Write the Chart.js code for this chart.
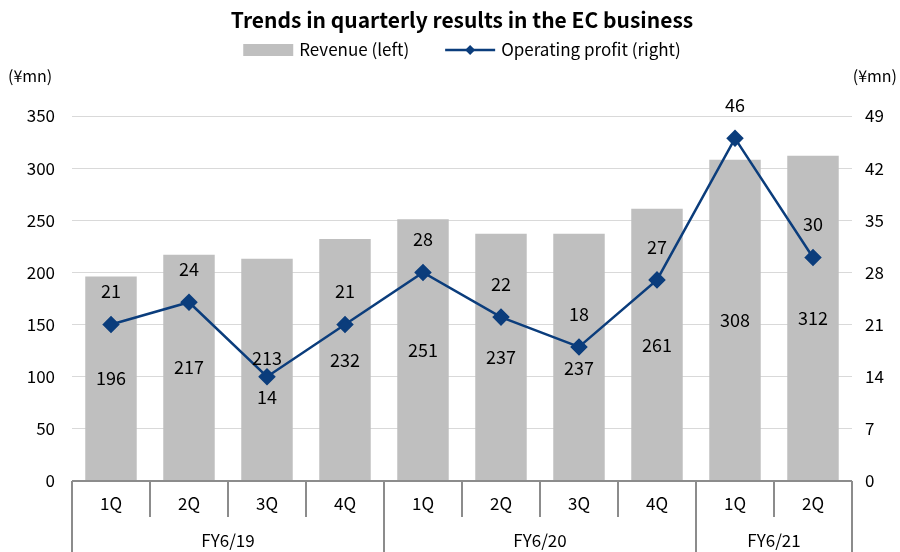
<!DOCTYPE html>
<html>
<head>
<meta charset="utf-8">
<script src="https://cdn.jsdelivr.net/npm/chart.js@4/dist/chart.umd.min.js"></script>
<style>
html,body{margin:0;padding:0;background:#fff;}
#wrap{width:900px;height:552px;position:relative;}
</style>
</head>
<body>
<div id="wrap"><canvas id="c" width="900" height="552"></canvas></div>
<script>
const categories = ['1Q','2Q','3Q','4Q','1Q','2Q','3Q','4Q','1Q','2Q'];
const fiscalYears = ['FY6/19','FY6/20','FY6/21'];
const yearSpans = [4,4,2];
const revenue = [196,217,213,232,251,237,237,261,308,312];
const opProfit = [21,24,14,21,28,22,18,27,46,30];
const leftTicks = {min:0,max:350,step:50};
const rightTicks = {min:0,max:49,step:7};
const titleText = 'Trends in quarterly results in the EC business';
const legendRevenue = 'Revenue (left)';
const legendProfit = 'Operating profit (right)';
const unitLabel = '(¥mn)';

const FONT = "'Noto Sans CJK JP','Liberation Sans',sans-serif";
const BAR_COLOR = '#bfbfbf';
const LINE_COLOR = '#0b3d7c';
const AXIS_COLOR = '#8c8c8c';

const decor = {
  id:'decor',
  afterDraw(chart){
    const ctx = chart.ctx, ca = chart.chartArea, x = chart.scales.x;
    const H = chart.height;
    ctx.save();
    // title
    ctx.fillStyle = '#000';
    ctx.font = "bold 21px " + FONT;
    ctx.textAlign = 'center'; ctx.textBaseline = 'middle';
    const cx = (ca.left + ca.right)/2;
    ctx.fillText(titleText, cx, 20);
    // legend
    ctx.font = "17px " + FONT;
    const w1 = ctx.measureText(legendRevenue).width;
    const w2 = ctx.measureText(legendProfit).width;
    const boxW = 50, lineW = 50, gap = 6, sep = 36;
    const total = boxW + gap + w1 + sep + lineW + gap + w2;
    let lx = cx - total/2; const ly = 50;
    ctx.fillStyle = BAR_COLOR; ctx.fillRect(lx, ly-6, boxW, 12);
    lx += boxW + gap;
    ctx.fillStyle = '#000'; ctx.textAlign = 'left';
    ctx.fillText(legendRevenue, lx, ly); lx += w1 + sep;
    ctx.strokeStyle = LINE_COLOR; ctx.lineWidth = 2.5;
    ctx.beginPath(); ctx.moveTo(lx, ly); ctx.lineTo(lx+lineW, ly); ctx.stroke();
    ctx.fillStyle = LINE_COLOR;
    ctx.beginPath(); const dx = lx+lineW/2;
    ctx.moveTo(dx, ly-5); ctx.lineTo(dx+5, ly); ctx.lineTo(dx, ly+5); ctx.lineTo(dx-5, ly); ctx.closePath(); ctx.fill();
    lx += lineW + gap;
    ctx.fillStyle = '#000';
    ctx.fillText(legendProfit, lx, ly);
    // unit labels
    ctx.font = "16px " + FONT;
    ctx.textAlign = 'left';
    ctx.fillText(unitLabel, 8, 76);
    ctx.textAlign = 'right';
    ctx.fillText(unitLabel, 897, 76);
    // category axis
    const n = categories.length;
    const cw = (x.getPixelForValue(1) - x.getPixelForValue(0));
    const bY = ca.bottom;
    ctx.strokeStyle = AXIS_COLOR; ctx.lineWidth = 2;
    ctx.beginPath(); ctx.moveTo(ca.left, bY); ctx.lineTo(ca.right, bY); ctx.stroke();
    const groupEdges = [0]; let acc = 0;
    yearSpans.forEach(s => { acc += s; groupEdges.push(acc); });
    for (let i = 0; i <= n; i++) {
      const px = x.getPixelForValue(0) - cw/2 + i*cw;
      const isGroup = groupEdges.includes(i);
      ctx.beginPath(); ctx.moveTo(px, bY); ctx.lineTo(px, isGroup ? H : bY + 36); ctx.stroke();
    }
    ctx.fillStyle = '#000'; ctx.textAlign = 'center'; ctx.font = "17px " + FONT;
    categories.forEach((c,i) => ctx.fillText(c, x.getPixelForValue(i), bY + 23));
    fiscalYears.forEach((fy,g) => {
      const a = groupEdges[g], b = groupEdges[g+1];
      const px = x.getPixelForValue(0) - cw/2 + (a+b)/2*cw;
      ctx.fillText(fy, px, bY + 60);
    });
    // data labels
    const barMeta = chart.getDatasetMeta(1), lineMeta = chart.getDatasetMeta(0);
    ctx.font = "18px " + FONT;
    barMeta.data.forEach((el,i) => {
      const center = (el.y + el.base)/2;
      const pt = lineMeta.data[i];
      let y = center;
      // line label position (above unless crowded by bar label)
      let ly2 = pt.y - 33;
      if (Math.abs(ly2 - center) < 30) ly2 = pt.y + 20;
      // bar label: avoid overlapping the line marker
      if (Math.abs(center - pt.y) < 16) {
        y = (pt.y > center) ? pt.y - 19 : pt.y + 21;
      }
      ctx.fillText(String(revenue[i]), el.x, y);
      ctx.fillText(String(opProfit[i]), pt.x, ly2);
    });
    ctx.restore();
  }
};

new Chart(document.getElementById('c'), {
  type:'bar',
  data:{
    labels: categories,
    datasets:[
      {type:'line', label:legendProfit, data:opProfit, yAxisID:'y1', order:0,
       borderColor:LINE_COLOR, backgroundColor:LINE_COLOR, borderWidth:2.5,
       pointStyle:'rectRot', pointRadius:7, pointHoverRadius:7, tension:0},
      {type:'bar', label:legendRevenue, data:revenue, yAxisID:'y', order:1,
       backgroundColor:BAR_COLOR, barPercentage:0.66, categoryPercentage:1}
    ]
  },
  options:{
    responsive:false, animation:false,
    layout:{padding:{top:116,left:0,right:0,bottom:0}},
    plugins:{legend:{display:false}, title:{display:false}, tooltip:{enabled:false}},
    scales:{
      x:{
        ticks:{display:false}, grid:{display:false, drawTicks:false}, border:{display:false},
        afterFit(s){ s.height = 71; }
      },
      y:{
        position:'left', min:leftTicks.min, max:leftTicks.max,
        ticks:{stepSize:leftTicks.step, color:'#000', font:{size:17, family:FONT}, padding:17},
        grid:{drawTicks:false, color:c => c.tick.value === 0 ? 'rgba(0,0,0,0)' : '#d9d9d9', lineWidth:1},
        border:{display:false},
        afterFit(s){ s.width = 72; }
      },
      y1:{
        position:'right', min:rightTicks.min, max:rightTicks.max,
        ticks:{stepSize:rightTicks.step, color:'#000', font:{size:17, family:FONT}, padding:13},
        grid:{display:false, drawTicks:false}, border:{display:false},
        afterFit(s){ s.width = 48; }
      }
    }
  },
  plugins:[decor]
});
</script>
</body>
</html>
